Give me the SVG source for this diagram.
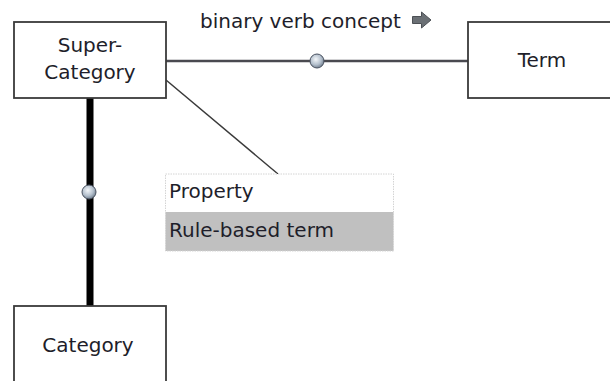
<svg xmlns="http://www.w3.org/2000/svg" width="610" height="381" viewBox="0 0 610 381">
<style>
.box{fill:#fff;stroke:#3a3a3a;stroke-width:1.8}
.t{font-family:"DejaVu Sans",Verdana,sans-serif;font-size:20px;fill:#1e1e2a}
.c{text-anchor:middle}
.dot{fill:url(#g);stroke:#4a5260;stroke-width:1}
</style>
<defs>
<radialGradient id="g" cx="0.42" cy="0.38" r="0.65">
<stop offset="0" stop-color="#f4f7fa"/>
<stop offset="0.6" stop-color="#b3bfcc"/>
<stop offset="1" stop-color="#6c7a8a"/>
</radialGradient>
</defs>
<rect width="610" height="381" fill="#fff"/>
<g id="connectors">
<line x1="166" y1="61" x2="468" y2="61" stroke="#4a4a50" stroke-width="2.5"/>
<circle class="dot" cx="317" cy="61" r="7"/>
<line x1="90" y1="98" x2="90" y2="306" stroke="#000" stroke-width="7"/>
<circle class="dot" cx="89" cy="192" r="7"/>
<line x1="166" y1="80" x2="278" y2="174" stroke="#3a3a3a" stroke-width="1.5"/>
<text class="t" x="200" y="28">binary verb concept</text>
<path d="M412.5,16.5 H421.5 V12 L431,20 L421.5,28 V23.5 H412.5 Z" fill="#6b7075" stroke="#4c5055" stroke-width="1"/>
</g>
<g id="supercategory">
<rect class="box" x="14" y="22" width="152" height="76"/>
<text class="t c" x="90" y="52">Super-</text>
<text class="t c" x="90" y="79">Category</text>
</g>
<g id="term">
<rect class="box" x="468" y="22" width="146" height="76"/>
<text class="t c" x="542" y="67">Term</text>
</g>
<g id="category">
<rect class="box" x="14" y="306" width="152" height="90"/>
<text class="t c" x="88" y="352">Category</text>
</g>
<g id="property">
<rect x="165.5" y="174" width="228" height="38" fill="#fff"/>
<rect x="165.5" y="212" width="228" height="39" fill="#c0c0c0"/>
<rect x="165.5" y="174" width="228" height="77" fill="none" stroke="#d4d4d4" stroke-width="1" stroke-dasharray="1.5,1"/>
<text class="t" x="169" y="198">Property</text>
<text class="t" x="169" y="237">Rule-based term</text>
</g>
</svg>
